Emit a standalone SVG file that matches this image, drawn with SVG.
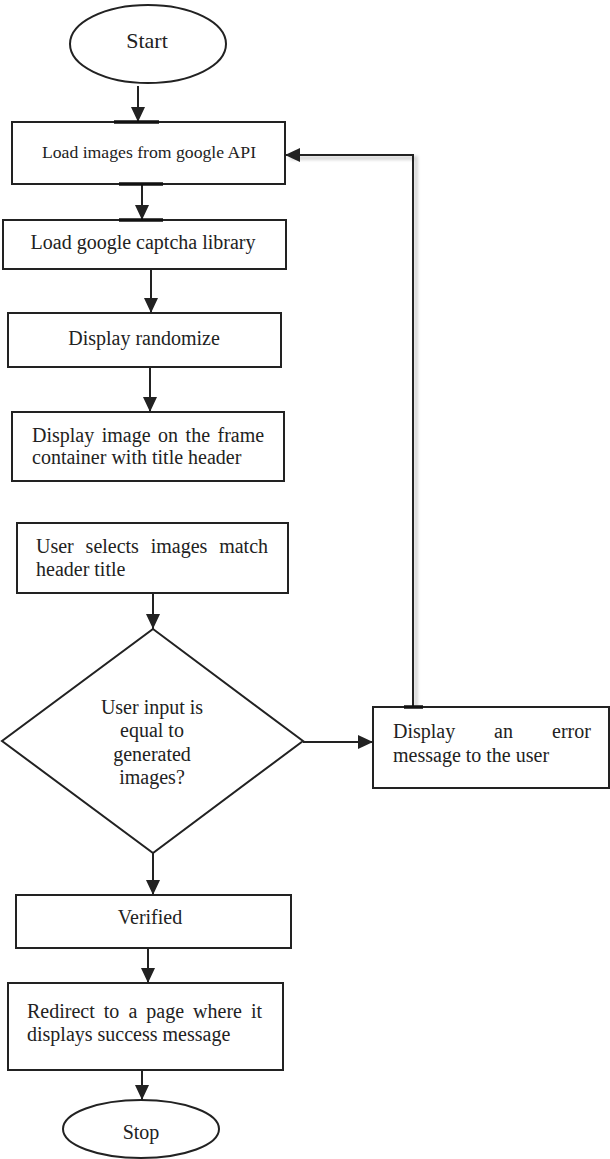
<svg xmlns="http://www.w3.org/2000/svg" width="610" height="1159" viewBox="0 0 610 1159">
<style>
.box{fill:#fff;stroke:#222;stroke-width:2}
.t{font-family:"Liberation Serif","Times New Roman",serif;font-size:20px;fill:#222}
.c{text-anchor:middle}
.ln{fill:none;stroke:#222;stroke-width:2}
.bar{stroke:#111;stroke-width:3.5}
.sh{fill:none;stroke:#bbb;stroke-width:4;opacity:0.6}
</style>
<defs>
<marker id="arr" viewBox="0 0 15 14" refX="15" refY="7" markerWidth="15" markerHeight="14" markerUnits="userSpaceOnUse" orient="auto">
<path d="M0,0 L15,7 L0,14 z" fill="#222"/>
</marker>
<filter id="blur" x="-10%" y="-10%" width="120%" height="120%"><feGaussianBlur stdDeviation="1.5"/></filter>
</defs>
<rect width="610" height="1159" fill="#fff"/>

<g id="start">
<ellipse cx="148" cy="44" rx="78" ry="39" class="box"/>
<text x="147" y="48" class="t c" style="font-size:22px">Start</text>
</g>

<g id="load-images">
<rect x="12" y="122" width="273" height="62" class="box"/>
<text x="149" y="158" class="t c" style="font-size:17.7px">Load images from google API</text>
</g>

<g id="load-captcha">
<rect x="3" y="220" width="283" height="49" class="box"/>
<text x="143" y="249" class="t c">Load google captcha library</text>
</g>

<g id="display-randomize">
<rect x="8" y="313" width="273" height="54" class="box"/>
<text x="144" y="345" class="t c">Display randomize</text>
</g>

<g id="display-image">
<rect x="12" y="412" width="272" height="69" class="box"/>
<text y="442" class="t"><tspan x="32">Display</tspan><tspan x="101.7">image</tspan><tspan x="158.1">on</tspan><tspan x="185.6">the</tspan><tspan x="217.5">frame</tspan></text>
<text x="32" y="464" class="t">container with title header</text>
</g>

<g id="user-selects">
<rect x="17" y="523" width="271" height="70" class="box"/>
<text y="553" class="t"><tspan x="36">User</tspan><tspan x="85.6">selects</tspan><tspan x="150.7">images</tspan><tspan x="219.2">match</tspan></text>
<text x="36" y="576" class="t">header title</text>
</g>

<g id="decision">
<polygon points="153,629 303,741 153,853 2,741" class="box"/>
<text x="152" y="714" class="t c">User input is</text>
<text x="152" y="737" class="t c">equal to</text>
<text x="152" y="761" class="t c">generated</text>
<text x="152" y="784" class="t c">images?</text>
</g>

<g id="error">
<rect x="373" y="707" width="236" height="81" class="box"/>
<text y="738" class="t"><tspan x="393">Display</tspan><tspan x="494">an</tspan><tspan x="552">error</tspan></text>
<text x="393" y="762" class="t">message to the user</text>
</g>

<g id="verified">
<rect x="16" y="895" width="275" height="53" class="box"/>
<text x="150" y="924" class="t c">Verified</text>
</g>

<g id="redirect">
<rect x="8" y="983" width="275" height="87" class="box"/>
<text y="1018" class="t"><tspan x="27">Redirect</tspan><tspan x="103.8">to</tspan><tspan x="128.4">a</tspan><tspan x="146.3">page</tspan><tspan x="193.1">where</tspan><tspan x="251">it</tspan></text>
<text x="27" y="1041" class="t">displays success message</text>
</g>

<g id="stop">
<ellipse cx="141" cy="1129" rx="78" ry="29" class="box"/>
<text x="141" y="1139" class="t c">Stop</text>
</g>

<g id="connectors">
<path d="M416,707 V158 H290" class="sh" filter="url(#blur)"/>
<line x1="138" y1="86" x2="138" y2="122" class="ln" marker-end="url(#arr)"/>
<line x1="142" y1="184" x2="142" y2="220" class="ln" marker-end="url(#arr)"/>
<line x1="151" y1="269" x2="151" y2="313" class="ln" marker-end="url(#arr)"/>
<line x1="150" y1="367" x2="150" y2="412" class="ln" marker-end="url(#arr)"/>
<line x1="153" y1="593" x2="153" y2="629" class="ln" marker-end="url(#arr)"/>
<line x1="303" y1="742" x2="373" y2="742" class="ln" marker-end="url(#arr)"/>
<line x1="153" y1="853" x2="153" y2="895" class="ln" marker-end="url(#arr)"/>
<line x1="148" y1="948" x2="148" y2="983" class="ln" marker-end="url(#arr)"/>
<line x1="142" y1="1070" x2="142" y2="1100" class="ln" marker-end="url(#arr)"/>
<path d="M413,707 V155 H285" class="ln" marker-end="url(#arr)"/>
<line x1="114" y1="122" x2="159" y2="122" class="bar"/>
<line x1="119" y1="184" x2="163" y2="184" class="bar"/>
<line x1="119" y1="220" x2="163" y2="220" class="bar"/>
<line x1="404" y1="707" x2="423" y2="707" class="bar"/>
</g>
</svg>
